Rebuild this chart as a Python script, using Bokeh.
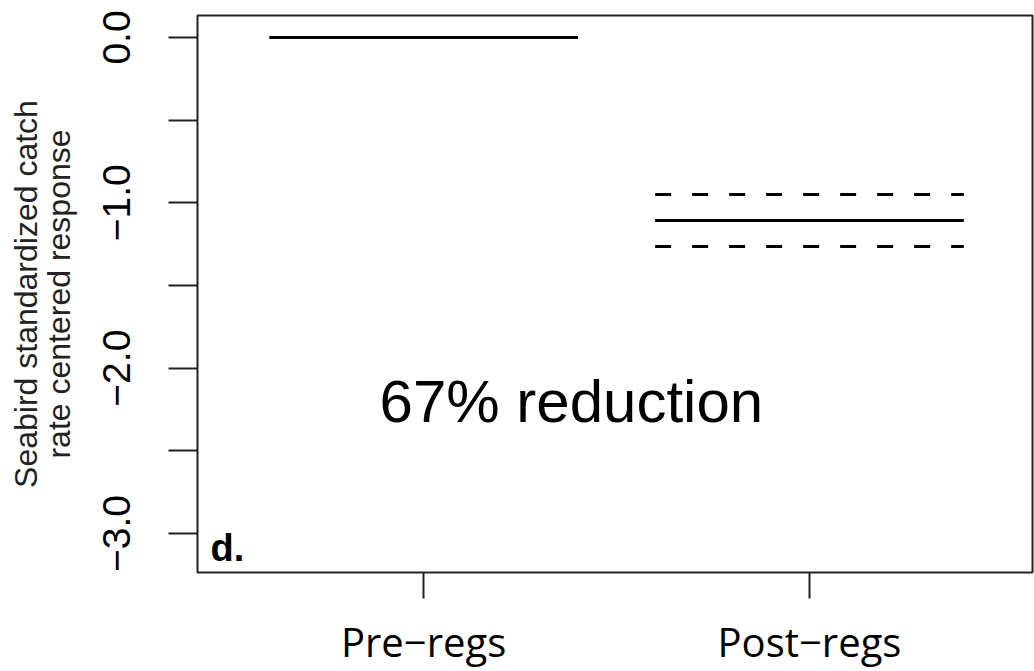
from bokeh.plotting import figure
from bokeh.models import Range1d, FixedTicker, Label
from bokeh.embed import file_html
from bokeh.resources import INLINE

# ---- data ----
categories = ["Pre\u2212regs", "Post\u2212regs"]
cat_pos = [1, 2]
means = [0.0, -1.107]
upper_ci = [None, -0.95]
lower_ci = [None, -1.264]
half_width = 0.40
y_ticks = [0.0, -0.5, -1.0, -1.5, -2.0, -2.5, -3.0]
y_tick_labels = ["0.0", "", "\u22121.0", "", "\u22122.0", "", "\u22123.0"]
annotation = "67% reduction"
panel_tag = "d."
y_label = "Seabird standardized catch\nrate centered response"

p = figure(width=1034, height=671, output_backend="svg", toolbar_location=None,
           x_range=Range1d(0.414, 2.578), y_range=Range1d(-3.236, 0.133),
           min_border_left=197, min_border_right=2, min_border_top=15, min_border_bottom=98)
p.grid.visible = False
p.background_fill_color = "white"
p.border_fill_color = "white"
p.outline_line_color = "#222222"
p.outline_line_width = 2

# mean segments
x0 = [c - half_width for c in cat_pos]
x1 = [c + half_width for c in cat_pos]
p.segment(x0=x0, y0=means, x1=x1, y1=means, line_color="black", line_width=3)

# CI dashed segments
cx0, cx1, cu = [], [], []
for a, b, u, l in zip(x0, x1, upper_ci, lower_ci):
    if u is not None:
        cx0 += [a, a]
        cx1 += [b, b]
        cu += [u, l]
p.segment(x0=cx0, y0=cu, x1=cx1, y1=cu, line_color="black", line_width=3,
          line_dash="16 21")

# y axis
ya = p.yaxis[0]
ya.ticker = FixedTicker(ticks=y_ticks)
ya.major_label_overrides = {t: l for t, l in zip(y_ticks, y_tick_labels)}
ya.major_label_orientation = "vertical"
ya.major_label_text_font = "Liberation Sans"
ya.major_label_text_font_size = "39px"
ya.major_label_text_color = "black"
ya.major_tick_out = 29
ya.major_tick_in = 0
ya.major_tick_line_width = 2
ya.major_tick_line_color = "#222222"
ya.minor_tick_line_color = None
ya.axis_line_color = None
ya.major_label_standoff = 38
ya.axis_label = y_label
ya.axis_label_text_font = "Liberation Sans"
ya.axis_label_text_font_size = "32px"
ya.axis_label_text_font_style = "normal"
ya.axis_label_text_color = "#222222"
ya.axis_label_text_line_height = 0.9
ya.axis_label_standoff = 24

# x axis
xa = p.xaxis[0]
xa.ticker = FixedTicker(ticks=cat_pos)
xa.major_label_overrides = {c: n for c, n in zip(cat_pos, categories)}
xa.major_label_text_font = "Open Sans"
xa.major_label_text_font_size = "40px"
xa.major_label_text_color = "black"
xa.major_tick_out = 26
xa.major_tick_in = 0
xa.major_tick_line_width = 2
xa.major_tick_line_color = "#222222"
xa.minor_tick_line_color = None
xa.axis_line_color = None
xa.major_label_standoff = 15

p.add_layout(Label(x=1.383, y=-2.202, text=annotation, text_align="center",
                   text_baseline="alphabetic", text_font="Liberation Sans",
                   text_font_size="60px", text_color="black"))
p.add_layout(Label(x=0.448, y=-3.085, text=panel_tag, text_align="left",
                   text_baseline="alphabetic", text_font="Liberation Sans",
                   text_font_style="bold", text_font_size="38px", text_color="black"))

open("out.html", "w").write(file_html(p, INLINE))
